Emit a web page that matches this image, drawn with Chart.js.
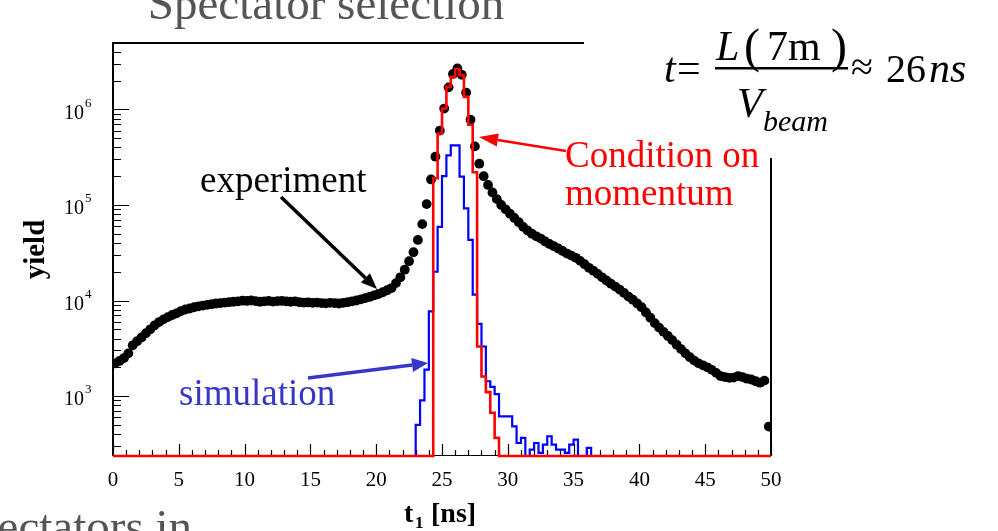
<!DOCTYPE html>
<html>
<head>
<meta charset="utf-8">
<script src="https://cdn.jsdelivr.net/npm/chart.js@4/dist/chart.umd.min.js"></script>
<style>
  html, body { margin: 0; padding: 0; background: #fff; }
</style>
</head>
<body>
<canvas id="tof-chart" width="998" height="531"></canvas>
<script>
// t1 time-of-flight spectrum, bins of 1/3 ns
const binWidth = 1 / 3;
const xTickStep = 5;
const yDecades = [1e3, 1e4, 1e5, 1e6];
const yFloor = 236;
const yCeil = 4.95e6;

// experiment (black dots), one value per bin from 0 to 50 ns
const expYield = [
  2200, 2330, 2500,   2800, 3400, 3750,   4100, 4550, 5000,   5500, 5950, 6350,
  6700, 7050, 7350,   7750, 8050, 8250,   8500, 8700, 8850,   9000, 9150, 9300,
  9400, 9500, 9600,   9700, 9800, 9950,   9900, 10000, 9850,  9700, 9800, 9900,
  9750, 9850, 9900,   9800, 9700, 9800,   9600, 9500, 9550,   9450, 9500, 9400,
  9350, 9450, 9400,   9300, 9450, 9600,   9800, 10000, 10300, 10600, 10900, 11300,
  11700, 12200, 12800, 13500, 15200, 17500, 21000, 25800, 32000, 43000, 63000, 102000,
  185000, 320000, 600000, 1020000, 1700000, 2350000, 2680000, 2300000, 1500000,
  780000, 410000, 270000, 200000, 162000, 135000, 115000, 100000, 90000,
  81000, 73000, 66000, 59000, 54000, 50000, 47000, 44500, 41500, 39000, 37000, 35000,
  33000, 31000, 29500, 28000, 26000, 24000, 22000, 20500, 19000, 17500, 16200, 15000,
  14000, 13000, 12000, 11000, 10200, 9300, 8500, 7500, 6600, 5800, 5200, 4700,
  4250, 3850, 3450, 3100, 2800, 2550, 2350, 2200, 2100, 2000, 1880, 1750,
  1620, 1580, 1550, 1560, 1620, 1580, 1520, 1490, 1430, 1380, 1450, 480
];

// condition on momentum (red histogram)
const redFirstEdge = 73 / 3;
const redCounts = [190000, 560000, 1020000, 1720000, 2190000, 2640000, 2280000,
  1350000, 690000, 220000, 3300, 1600, 1100, 670, 365];

// simulation (blue histogram)
const blueFirstEdge = 23;
const blueCounts = [500, 900, 1890, 7700, 20000, 59000, 200000, 330000, 420000, 420000,
  198000, 92000, 43000, 11500, 5700, 3300, 1430, 1250, 1050, 614,
  614, 614, 482, 323, 365, 0, 275, 323, 254, 311,
  380, 311, 275, 275, 254, 311, 350, 0, 0, 287];

const serif = '"Liberation Serif", "Times New Roman", serif';

// step outline of a histogram, zero bins sit on the axis floor
function histPoints(firstEdge, counts, fromX, toX) {
  const pts = [{ x: fromX, y: yFloor }];
  counts.forEach(function (c, i) {
    pts.push({ x: firstEdge + i * binWidth, y: c > 0 ? c : yFloor });
  });
  pts.push({ x: firstEdge + counts.length * binWidth, y: yFloor });
  pts.push({ x: toX, y: yFloor });
  return pts;
}

const expPoints = expYield.map(function (v, i) {
  return { x: (i + 0.5) * binWidth, y: v };
});

function arrow(ctx, x0, y0, x1, y1, color, width, headLen, headWid) {
  const ang = Math.atan2(y1 - y0, x1 - x0);
  const bx = x1 - headLen * Math.cos(ang);
  const by = y1 - headLen * Math.sin(ang);
  ctx.strokeStyle = color;
  ctx.lineWidth = width;
  ctx.beginPath();
  ctx.moveTo(x0, y0);
  ctx.lineTo(bx, by);
  ctx.stroke();
  ctx.fillStyle = color;
  ctx.beginPath();
  ctx.moveTo(x1, y1);
  ctx.lineTo(bx + headWid / 2 * Math.sin(ang), by - headWid / 2 * Math.cos(ang));
  ctx.lineTo(bx - headWid / 2 * Math.sin(ang), by + headWid / 2 * Math.cos(ang));
  ctx.closePath();
  ctx.fill();
}

// frame, inward ticks and 10^n labels
const axesPlugin = {
  id: 'axesPlugin',
  beforeDatasetsDraw(chart) {
    const ctx = chart.ctx;
    const a = chart.chartArea;
    const xs = chart.scales.x;
    const ys = chart.scales.y;
    ctx.save();
    ctx.strokeStyle = '#000';
    ctx.lineWidth = 2;
    ctx.beginPath();
    ctx.moveTo(a.left, a.bottom);
    ctx.lineTo(a.left, a.top);
    ctx.lineTo(584, a.top);
    ctx.moveTo(a.right, 158);
    ctx.lineTo(a.right, a.bottom);
    ctx.stroke();
    ctx.lineWidth = 1;
    ctx.beginPath();
    ctx.moveTo(a.left, a.bottom - 0.5);
    ctx.lineTo(a.right, a.bottom - 0.5);
    ctx.stroke();

    ctx.lineWidth = 1.2;
    ctx.beginPath();
    for (let v = xs.min; v <= xs.max; v++) {
      const px = Math.round(xs.getPixelForValue(v)) + 0.5;
      const len = v % xTickStep === 0 ? 12 : 6;
      ctx.moveTo(px, a.bottom);
      ctx.lineTo(px, a.bottom - len);
    }
    for (let d = 2; d <= 6; d++) {
      for (let m = 1; m <= 9; m++) {
        const v = m * Math.pow(10, d);
        if (v < ys.min || v > ys.max) continue;
        const py = Math.round(ys.getPixelForValue(v)) + 0.5;
        ctx.moveTo(a.left, py);
        ctx.lineTo(a.left + (m === 1 ? 16 : 8), py);
      }
    }
    ctx.stroke();

    ctx.fillStyle = '#000';
    ctx.textBaseline = 'middle';
    yDecades.forEach(function (v) {
      const py = ys.getPixelForValue(v);
      ctx.font = '20px ' + serif;
      ctx.textAlign = 'right';
      ctx.fillText('10', 84, py + 4);
      ctx.font = '13px ' + serif;
      ctx.textAlign = 'left';
      ctx.fillText(String(Math.round(Math.log10(v))), 85, py - 6);
    });
    ctx.restore();
  },
  afterDraw(chart) {
    const ctx = chart.ctx;
    const a = chart.chartArea;
    ctx.save();
    ctx.textBaseline = 'alphabetic';

    // axis titles
    ctx.fillStyle = '#000';
    ctx.font = 'bold 29px ' + serif;
    ctx.save();
    ctx.translate(44, (a.top + a.bottom) / 2);
    ctx.rotate(-Math.PI / 2);
    ctx.textAlign = 'center';
    ctx.fillText('yield', 0, 0);
    ctx.restore();
    const cx = (a.left + a.right) / 2;
    ctx.textAlign = 'left';
    ctx.font = 'bold 28px ' + serif;
    ctx.fillText('t', cx - 38, 522);
    ctx.font = 'bold 17px ' + serif;
    ctx.fillText('1', cx - 27, 528);
    ctx.font = 'bold 28px ' + serif;
    ctx.fillText('[ns]', cx - 11, 522);

    // slide text cut at the edges
    ctx.fillStyle = '#555';
    ctx.font = '47px ' + serif;
    ctx.textAlign = 'center';
    ctx.fillText('Spectator selection', 326, 19);
    ctx.textAlign = 'right';
    ctx.fillText('Spectators in', 192, 542);

    // labels and arrows
    ctx.textAlign = 'left';
    ctx.font = '37px ' + serif;
    ctx.fillStyle = '#000';
    ctx.fillText('experiment', 200, 192);
    arrow(ctx, 281, 197, 377, 289, '#000', 3.5, 16, 13);

    ctx.fillStyle = '#ff0000';
    ctx.fillText('Condition on', 565, 167);
    ctx.fillText('momentum', 565, 205);
    arrow(ctx, 566, 151, 479, 137, '#ff0000', 2.5, 19, 13);

    ctx.fillStyle = '#3636c8';
    ctx.fillText('simulation', 179, 405);
    arrow(ctx, 308, 378, 428, 363, '#3636c8', 3.5, 16, 14);

    // t = L(7m)/V_beam ~ 26 ns
    ctx.fillStyle = '#000';
    ctx.font = 'italic 42px ' + serif;
    ctx.fillText('t', 664, 82);
    ctx.font = '42px ' + serif;
    ctx.fillText('=', 677, 82);
    ctx.font = 'italic 42px ' + serif;
    ctx.fillText('L', 716, 60);
    ctx.font = '48px ' + serif;
    ctx.fillText('(', 744, 62);
    ctx.font = '42px ' + serif;
    ctx.fillText('7m', 767, 60);
    ctx.font = '48px ' + serif;
    ctx.fillText(')', 831, 62);
    ctx.fillRect(715, 67, 133, 2.5);
    ctx.font = 'italic 42px ' + serif;
    ctx.fillText('V', 737, 117);
    ctx.font = 'italic 30px ' + serif;
    ctx.fillText('beam', 763, 131);
    ctx.font = '40px ' + serif;
    ctx.fillText('\u2248', 851, 80);
    ctx.fillText('26', 886, 82);
    ctx.font = 'italic 42px ' + serif;
    ctx.fillText('ns', 929, 82);
    ctx.restore();
  }
};

new Chart(document.getElementById('tof-chart').getContext('2d'), {
  type: 'line',
  data: {
    datasets: [
      {
        label: 'Condition on momentum',
        data: histPoints(redFirstEdge, redCounts, 0, 50),
        stepped: 'before',
        borderColor: '#ff0000',
        borderWidth: 2.6,
        pointRadius: 0,
        fill: false,
        clip: false,
        order: 0
      },
      {
        label: 'simulation',
        data: histPoints(blueFirstEdge, blueCounts, blueFirstEdge, blueFirstEdge + blueCounts.length * binWidth),
        stepped: 'before',
        borderColor: '#0000ff',
        borderWidth: 2.2,
        pointRadius: 0,
        fill: false,
        order: 1
      },
      {
        label: 'experiment',
        data: expPoints,
        showLine: false,
        pointRadius: 4.9,
        pointBackgroundColor: '#000',
        pointBorderWidth: 0,
        order: 2
      }
    ]
  },
  options: {
    responsive: false,
    animation: false,
    layout: { padding: { left: 0, right: 227, top: 43, bottom: 0 } },
    plugins: { legend: { display: false }, tooltip: { enabled: false } },
    scales: {
      x: {
        type: 'linear',
        min: 0,
        max: 50,
        grid: { display: false, drawTicks: false },
        border: { display: false },
        ticks: {
          stepSize: xTickStep,
          autoSkip: false,
          maxRotation: 0,
          padding: 12,
          color: '#000',
          font: { family: serif, size: 21 }
        },
        afterFit: function (s) { s.height = 75; }
      },
      y: {
        type: 'logarithmic',
        min: yFloor,
        max: yCeil,
        grid: { display: false, drawTicks: false },
        border: { display: false },
        ticks: { display: false },
        afterFit: function (s) { s.width = 113; }
      }
    }
  },
  plugins: [axesPlugin]
});
</script>
</body>
</html>
